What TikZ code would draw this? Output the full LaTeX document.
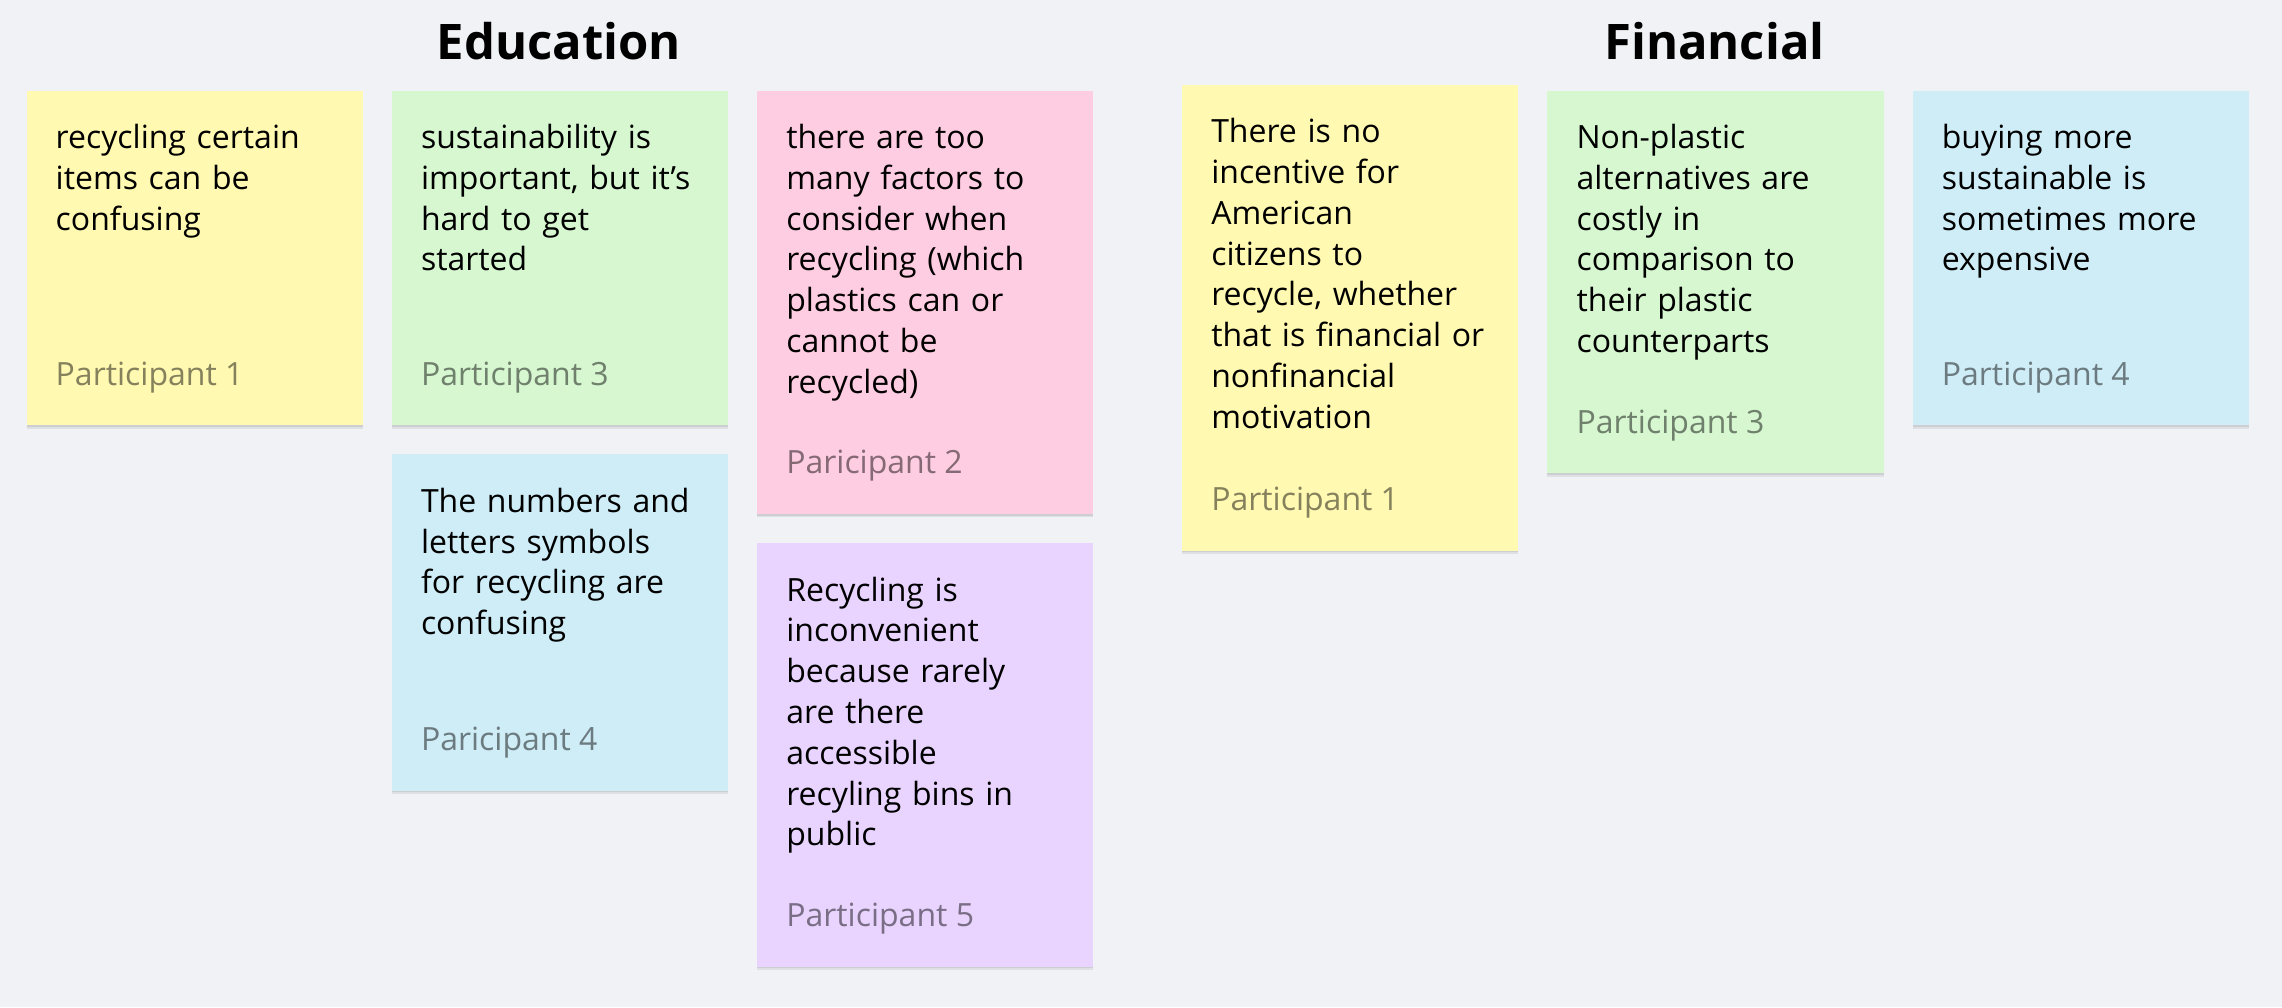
\documentclass[tikz,border=0pt]{standalone}
\usepackage{fontspec}
\setmainfont{Open Sans}
\usetikzlibrary{shadows,calc}
\definecolor{bg}{HTML}{F1F2F6}
\definecolor{sy}{HTML}{FFF9B1}
\definecolor{sg}{HTML}{D6F7D0}
\definecolor{sb}{HTML}{CFEDF7}
\definecolor{sp}{HTML}{FFCDE1}
\definecolor{sv}{HTML}{E9D4FF}
\tikzset{
  card/.style={rectangle, fill=#1, draw=none, inner sep=0pt, anchor=north west,
    minimum width=168.1pt,
    drop shadow={shadow xshift=0pt, shadow yshift=-1.6pt, opacity=0.07, fill=black},
    drop shadow={shadow xshift=0pt, shadow yshift=-0.8pt, opacity=0.08, fill=black}},
  body/.style={anchor=base west, inner sep=0pt, text width=160pt, align=left,
    font=\fontsize{16}{20.4}\selectfont, text=black},
  lab/.style={anchor=base west, inner sep=0pt, font=\fontsize{16}{20.4}\selectfont,
    text=black, text opacity=0.48},
  title/.style={inner sep=0pt, font=\bfseries\fontsize{24.5}{28}\selectfont, text=black}
}
\newcommand\sticky[7]{%
  \node[card=#5, minimum height={#4*0.7277pt}] (#1) at (#2,#3) {};
  \node[body] (#1t) at ($(#1.north west)+(20,40)$) {#6};
  \node[lab] (#1l) at ($(#1.south west)+(20,-28)$) {#7};
}
\begin{document}
\begin{tikzpicture}[x=0.7277pt, y=-0.7277pt]
  \fill[bg] (0,0) rectangle (1568,692);
  \useasboundingbox (0,0) rectangle (1568,692);
  \node[title] (edu) at (384,28) {Education};
  \node[title] (fin) at (1178,28) {Financial};
  \sticky{c1}{18}{62}{230}{sy}{recycling certain\\items can be\\confusing}{Participant 1}
  \sticky{c2}{269}{62}{230}{sg}{sustainability is\\important, but it’s\\hard to get\\started}{Participant 3}
  \sticky{c3}{269}{312}{231}{sb}{The numbers and\\letters symbols\\for recycling are\\confusing}{Paricipant 4}
  \sticky{c4}{520}{62}{291}{sp}{there are too\\many factors to\\consider when\\recycling (which\\plastics can or\\cannot be\\recycled)}{Paricipant 2}
  \sticky{c5}{520}{373}{291}{sv}{Recycling is\\inconvenient\\because rarely\\are there\\accessible\\recyling bins in\\public}{Participant 5}
  \sticky{c6}{812}{58}{320}{sy}{There is no\\incentive for\\American\\citizens to\\recycle, whether\\that is financial or\\nonfinancial\\motivation}{Participant 1}
  \sticky{c7}{1063}{62}{263}{sg}{Non-plastic\\alternatives are\\costly in\\comparison to\\their plastic\\counterparts}{Participant 3}
  \sticky{c8}{1314}{62}{230}{sb}{buying more\\sustainable is\\sometimes more\\expensive}{Participant 4}
\end{tikzpicture}
\end{document}
